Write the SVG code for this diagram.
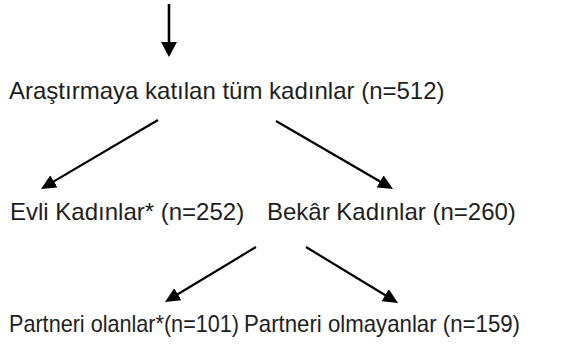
<svg xmlns="http://www.w3.org/2000/svg" width="561" height="345" viewBox="0 0 561 345">
  <style>
    text { font-family: "Liberation Sans", Arial, sans-serif; font-size: 24px; fill: #1e1e1e; }
    .conn { stroke: #000; stroke-width: 2.2; fill: none; }
    .main { stroke-width: 2.6; }
  </style>
  <defs>
    <marker id="ah" markerUnits="userSpaceOnUse" markerWidth="16" markerHeight="14" refX="5" refY="7" orient="auto">
      <path d="M0,0 L15,7 L0,14 z" fill="#000"/>
    </marker>
    <marker id="ahBig" markerUnits="userSpaceOnUse" markerWidth="16" markerHeight="16" refX="5" refY="8" orient="auto">
      <path d="M0,0 L15,8 L0,16 z" fill="#000"/>
    </marker>
  </defs>
  <rect width="561" height="345" fill="#fff"/>
  <g id="connectors">
    <line class="conn main" x1="169" y1="4" x2="169" y2="47" marker-end="url(#ahBig)"/>
    <line class="conn" x1="158" y1="120" x2="49.6" y2="183.9" marker-end="url(#ah)"/>
    <line class="conn" x1="276" y1="121" x2="384.4" y2="184" marker-end="url(#ah)"/>
    <line class="conn" x1="256" y1="247" x2="173.6" y2="296.8" marker-end="url(#ah)"/>
    <line class="conn" x1="306" y1="247" x2="389.5" y2="297.8" marker-end="url(#ah)"/>
  </g>
  <g id="node-all"><text x="9" y="99">Araştırmaya katılan tüm kadınlar (n=512)</text></g>
  <g id="node-married"><text x="10" y="220">Evli Kadınlar* (n=252)</text></g>
  <g id="node-single"><text x="267" y="220">Bekâr Kadınlar (n=260)</text></g>
  <g id="node-partner"><text x="9" y="332" textLength="230" lengthAdjust="spacingAndGlyphs">Partneri olanlar*(n=101)</text></g>
  <g id="node-nopartner"><text x="244" y="332" textLength="276" lengthAdjust="spacingAndGlyphs">Partneri olmayanlar (n=159)</text></g>
</svg>
